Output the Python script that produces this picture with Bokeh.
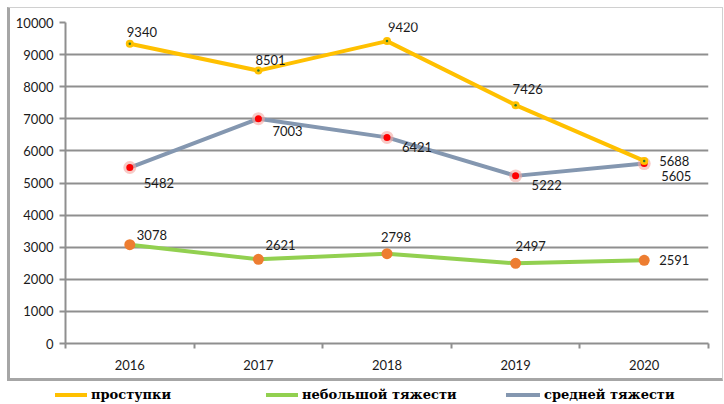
from bokeh.plotting import figure
from bokeh.models import ColumnDataSource, FixedTicker, Range1d, Div
from bokeh.layouts import column
from bokeh.core.properties import value
from bokeh.embed import file_html
from bokeh.resources import INLINE

years = ["2016", "2017", "2018", "2019", "2020"]
prostupki = [9340, 8501, 9420, 7426, 5688]
nebolshoy = [3078, 2621, 2798, 2497, 2591]
sredney = [5482, 7003, 6421, 5222, 5605]
series_names = ["проступки", "небольшой тяжести", "средней тяжести"]
series_colors = ["#FFC000", "#92D050", "#8497B0"]
y_ticks = list(range(0, 10001, 1000))

# label offsets (styling)
off_p = ([-3, -3, 1, -3, 15], [-12, -11, -14, -16, 0])
off_s = ([14, 14, 15, 16, 17], [15, 12, 10, 9, 12])
off_n = ([7, 7, -6, 0, 15], [-10, -14, -17, -17, 0])

xs = [i + 0.5 for i in range(len(years))]
FONT = "Lato"

p = figure(width=716, height=374, output_backend="svg", toolbar_location=None,
           x_range=Range1d(0, len(years)), y_range=Range1d(0, 10000),
           min_border_left=55, min_border_top=14, min_border_right=18, min_border_bottom=39)
p.styles = {"border-left": "3px solid #a6a6a6", "border-bottom": "3px solid #a6a6a6",
            "border-top": "1px solid #d0d0d0", "border-right": "1px solid #d0d0d0",
            "box-sizing": "border-box"}
p.outline_line_color = None
p.xgrid.grid_line_color = None
p.ygrid.grid_line_color = "#8f8f8f"
p.ygrid.grid_line_width = 2

p.yaxis.ticker = FixedTicker(ticks=y_ticks)
p.yaxis.axis_line_color = "#8f8f8f"
p.yaxis.axis_line_width = 2
p.yaxis.major_tick_line_color = "#8f8f8f"
p.yaxis.major_tick_line_width = 2
p.yaxis.major_tick_out = 6
p.yaxis.major_tick_in = 0
p.yaxis.minor_tick_line_color = None
p.yaxis.major_label_text_font = FONT
p.yaxis.major_label_text_font_size = "13px"
p.yaxis.major_label_text_color = "#1a1a1a"
p.yaxis.major_label_standoff = 6

p.xaxis.ticker = FixedTicker(ticks=xs, minor_ticks=list(range(len(years) + 1)))
p.xaxis.major_label_overrides = {x: y for x, y in zip(xs, years)}
p.xaxis.axis_line_color = "#8f8f8f"
p.xaxis.axis_line_width = 2
p.xaxis.major_tick_line_color = None
p.xaxis.minor_tick_line_color = "#8f8f8f"
p.xaxis.minor_tick_line_width = 2
p.xaxis.minor_tick_out = 5
p.xaxis.minor_tick_in = 0
p.xaxis.major_label_text_font = FONT
p.xaxis.major_label_text_font_size = "13px"
p.xaxis.major_label_text_color = "#1a1a1a"
p.xaxis.major_label_standoff = 10

src_p = ColumnDataSource(dict(x=xs, y=prostupki, t=[str(v) for v in prostupki], dx=off_p[0], dy=off_p[1]))
src_s = ColumnDataSource(dict(x=xs, y=sredney, t=[str(v) for v in sredney], dx=off_s[0], dy=off_s[1]))
src_n = ColumnDataSource(dict(x=xs, y=nebolshoy, t=[str(v) for v in nebolshoy], dx=off_n[0], dy=off_n[1]))

# средней тяжести
p.line("x", "y", source=src_s, line_color=series_colors[2], line_width=4)
p.scatter("x", "y", source=src_s, size=13, fill_color="#f4a6a0", fill_alpha=0.6, line_color=None)
p.scatter("x", "y", source=src_s, size=7, fill_color="#ff0000", line_color=None)
# небольшой тяжести
p.line("x", "y", source=src_n, line_color=series_colors[1], line_width=4)
p.scatter("x", "y", source=src_n, size=11, fill_color="#ED7D31", line_color=None)
# проступки
p.line("x", "y", source=src_p, line_color=series_colors[0], line_width=4)
p.scatter("x", "y", source=src_p, size=8, fill_color=series_colors[0], line_color=None)
p.scatter("x", "y", source=src_p, size=2.5, fill_color="#2e7d32", line_color=None)

for src in (src_p, src_s, src_n):
    p.text("x", "y", text="t", source=src, x_offset="dx", y_offset="dy",
           text_font=value(FONT), text_font_size="13px", text_color="#1a1a1a",
           text_align="left", text_baseline="middle")

# legend strip (HTML)
leg_sw = [48, 259, 499]
leg_w = [32, 32, 34]
items = []
for name, col, sx, sw in zip(series_names, series_colors, leg_sw, leg_w):
    items.append(
        f'<span style="position:absolute;left:{sx}px;top:12px;width:{sw}px;height:4px;background:{col};"></span>'
        f'<span style="position:absolute;left:{sx + sw + 4}px;top:4px;line-height:20px;'
        f'font-family:\'DejaVu Serif\',serif;font-weight:bold;font-size:13px;color:#000;white-space:nowrap;">{name}</span>'
    )
legend_html = '<div style="position:relative;width:716px;height:23px;">' + "".join(items) + "</div>"
lg = Div(text=legend_html, width=716, height=23, margin=0)

layout = column(p, lg, spacing=0, styles={"margin-left": "7px", "margin-top": "7px"})
open("out.html", "w").write(file_html(layout, INLINE))
